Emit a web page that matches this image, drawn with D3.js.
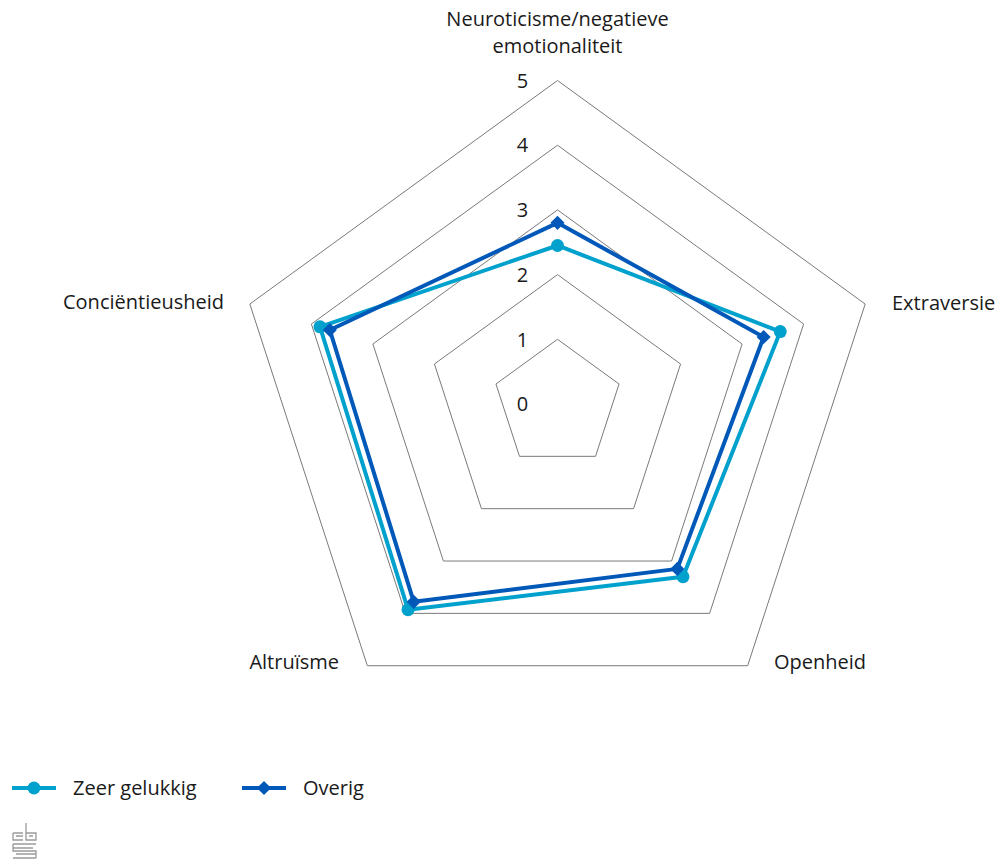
<!DOCTYPE html>
<html><head><meta charset="utf-8">
<script src="https://cdn.jsdelivr.net/npm/d3@7"></script>
<style>body{margin:0;background:#fff}svg{display:block}text{font-family:"Open Sans",sans-serif;fill:#1a1a1a}</style>
</head><body><svg id="c" width="1000" height="859"></svg>
<script>
const categories = ["Neuroticisme/negatieve emotionaliteit","Extraversie","Openheid","Altruïsme","Conciëntieusheid"];
const seriesNames = ["Zeer gelukkig","Overig"];
const zeerGelukkig = [2.45, 3.62, 3.3, 3.93, 3.86];
const overig = [2.8, 3.35, 3.15, 3.78, 3.7];
const tickLabels = [0,1,2,3,4,5];
const colors = ["#00a1cd","#0058b8"];

const svg = d3.select("#c");
const cx = 557.5, cy = 404;
const r = d3.scaleLinear().domain([0,5]).range([0,323.5]);
const ang = d3.scalePoint().domain(d3.range(categories.length)).range([0, 2*Math.PI*(categories.length-1)/categories.length]);
const pt = (i,v) => [cx + r(v)*Math.sin(ang(i)), cy - r(v)*Math.cos(ang(i))];

// grid
const g = svg.append("g");
tickLabels.slice(1).forEach(t => {
  g.append("path").attr("d", d3.line()(categories.map((c,i)=>pt(i,t))) + "Z")
   .attr("fill","none").attr("stroke","#7a7a7a").attr("stroke-width",1);
});
tickLabels.forEach(t => {
  g.append("text").attr("x", cx-35).attr("y", cy - r(t)).attr("dy","0.36em")
   .attr("text-anchor","middle").style("font-size","20px").text(t);
});

// category labels
const lab = svg.append("g").style("font-size","20px");
lab.append("text").attr("x",cx).attr("y",26).attr("text-anchor","middle").text("Neuroticisme/negatieve");
lab.append("text").attr("x",cx).attr("y",53).attr("text-anchor","middle").text("emotionaliteit");
lab.append("text").attr("x",892).attr("y",310).attr("text-anchor","start").text(categories[1]);
lab.append("text").attr("x",774).attr("y",669).attr("text-anchor","start").text(categories[2]);
lab.append("text").attr("x",339).attr("y",669).attr("text-anchor","end").text(categories[3]);
lab.append("text").attr("x",224).attr("y",309).attr("text-anchor","end").text(categories[4]);

// series
const diamond = d3.symbol().type(d3.symbolSquare).size(100);
[zeerGelukkig, overig].forEach((vals, s) => {
  const pts = vals.map((v,i)=>pt(i,v));
  svg.append("path").attr("d", d3.line()(pts)+"Z").attr("fill","none")
    .attr("stroke",colors[s]).attr("stroke-width",4).attr("stroke-linejoin","round");
  pts.forEach(p => {
    if (s===0) svg.append("circle").attr("cx",p[0]).attr("cy",p[1]).attr("r",6.5).attr("fill",colors[s]);
    else svg.append("path").attr("d",diamond()).attr("transform",`translate(${p[0]},${p[1]}) rotate(45)`).attr("fill",colors[s]);
  });
});

// legend
const leg = svg.append("g").style("font-size","20px");
const lx = [12, 242];
seriesNames.forEach((n,s)=>{
  leg.append("line").attr("x1",lx[s]).attr("x2",lx[s]+44).attr("y1",788).attr("y2",788).attr("stroke",colors[s]).attr("stroke-width",4);
  if (s===0) leg.append("circle").attr("cx",lx[s]+22).attr("cy",788).attr("r",6.5).attr("fill",colors[s]);
  else leg.append("path").attr("d",diamond()).attr("transform",`translate(${lx[s]+22},788) rotate(45)`).attr("fill",colors[s]);
  leg.append("text").attr("x",lx[s]+61).attr("y",795).text(n);
});

// cbs logo approximation
const logo = svg.append("g").attr("fill","none").attr("stroke","#9a9a9a").attr("stroke-width",1.3);
logo.append("path").attr("d","M13,833 h10 M13,833 v7 h10 M16,836 h7 M26,823 v17 h10 v-7 h-10 M29,836 h4 M13,844 h23 M13,844 v7 h23 v7 M13,848 h20 M16,854 h20 M13,858 h23");
</script></body></html>
